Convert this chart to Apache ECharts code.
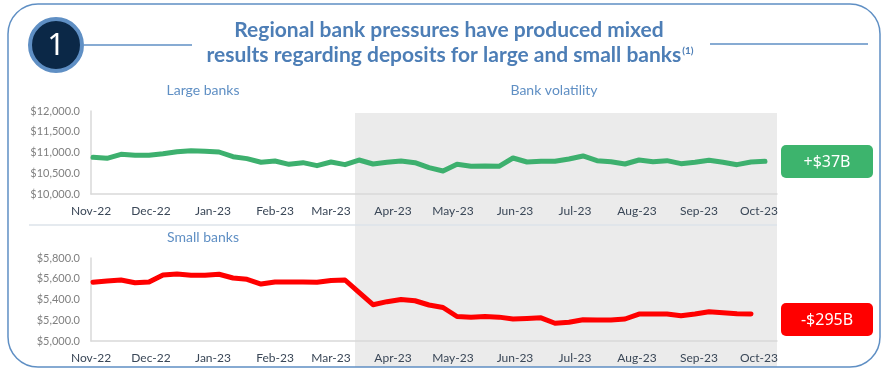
<!DOCTYPE html>
<html>
<head>
<meta charset="utf-8">
<script src="https://cdn.jsdelivr.net/npm/echarts@6/dist/echarts.min.js"></script>
<style>
  html, body { margin: 0; padding: 0; background: #ffffff; }
  #chart { width: 884px; height: 372px; }
</style>
</head>
<body>
<div id="chart"></div>
<script>
// Weekly observation dates (Wednesdays)
const weekDates = [
  '2022-11-02','2022-11-09','2022-11-16','2022-11-23','2022-11-30',
  '2022-12-07','2022-12-14','2022-12-21','2022-12-28',
  '2023-01-04','2023-01-11','2023-01-18','2023-01-25',
  '2023-02-01','2023-02-08','2023-02-15','2023-02-22',
  '2023-03-01','2023-03-08','2023-03-15','2023-03-22','2023-03-29',
  '2023-04-05','2023-04-12','2023-04-19','2023-04-26',
  '2023-05-03','2023-05-10','2023-05-17','2023-05-24','2023-05-31',
  '2023-06-07','2023-06-14','2023-06-21','2023-06-28',
  '2023-07-05','2023-07-12','2023-07-19','2023-07-26',
  '2023-08-02','2023-08-09','2023-08-16','2023-08-23','2023-08-30',
  '2023-09-06','2023-09-13','2023-09-20','2023-09-27',
  '2023-10-04'
];

// Deposits, $ billions
const largeBanks = [
  10884, 10860, 10956, 10932, 10932, 10972, 11020, 11044, 11028, 11012,
  10900, 10852, 10764, 10795, 10715, 10755, 10683, 10771, 10707, 10819,
  10723, 10763, 10795, 10755, 10634, 10554, 10715, 10667, 10675, 10667,
  10867, 10771, 10787, 10787, 10843, 10916, 10803, 10779, 10723, 10819,
  10779, 10803, 10731, 10763, 10811, 10763, 10707, 10771, 10787
];
const smallBanks = [
  5566, 5578, 5588, 5562, 5569, 5636, 5646, 5633, 5633, 5643,
  5607, 5595, 5549, 5569, 5569, 5569, 5566, 5583, 5588, 5468,
  5350, 5379, 5400, 5388, 5347, 5323, 5236, 5230, 5236, 5230,
  5212, 5217, 5223, 5171, 5180, 5205, 5202, 5202, 5212, 5260,
  5260, 5260, 5244, 5260, 5282, 5273, 5263, 5260
];

// Month tick positions and labels
const monthStarts = [
  '2022-11-01','2022-12-01','2023-01-01','2023-02-01','2023-03-01','2023-04-01',
  '2023-05-01','2023-06-01','2023-07-01','2023-08-01','2023-09-01','2023-10-01'
];
const monthLabels = [
  'Nov-22','Dec-22','Jan-23','Feb-23','Mar-23','Apr-23',
  'May-23','Jun-23','Jul-23','Aug-23','Sep-23','Oct-23'
];

const axisStart = '2022-11-01';
const axisEnd = '2023-10-10';
const volatilityStart = '2023-03-13';

const largeTicks = { min: 10000, max: 12000, interval: 500 };
const smallTicks = { min: 5000, max: 5800, interval: 200 };

const titleLines = ['Regional bank pressures have produced mixed', 'results regarding deposits for large and small banks'];
const largeChange = '+$37B';
const smallChange = '-$295B';

const toTime = s => new Date(s + 'T00:00:00').getTime();
const monthTimes = monthStarts.map(toTime);
const labelFor = v => {
  const i = monthTimes.indexOf(v);
  return i >= 0 ? monthLabels[i] : '';
};
const money = v => '$' + v.toLocaleString('en-US', { minimumFractionDigits: 1, maximumFractionDigits: 1 });

const blue = '#4D7EB6';
const lightBlue = '#5F8FC4';
const green = '#3DB06E';
const red = '#FF0000';
const axisGray = '#D9D9D9';

function xAxisFor(gridIndex) {
  return {
    type: 'value', gridIndex,
    min: toTime(axisStart), max: toTime(axisEnd),
    axisLine: { show: true, onZero: false, lineStyle: { color: axisGray, width: 1.5 } },
    axisTick: { show: false },
    splitLine: { show: false },
    axisLabel: {
      customValues: monthTimes,
      formatter: labelFor,
      color: '#3A4757', fontSize: 12, fontFamily: 'Lato',
      margin: 11, hideOverlap: false, showMinLabel: true, showMaxLabel: true
    }
  };
}
function yAxisFor(gridIndex, t) {
  return {
    type: 'value', gridIndex,
    min: t.min, max: t.max, interval: t.interval,
    axisLine: { show: true, lineStyle: { color: axisGray, width: 1.5 } },
    axisTick: { show: false },
    splitLine: { show: false },
    axisLabel: { formatter: money, color: '#7F7F7F', fontSize: 11, fontFamily: 'Lato', margin: 11 }
  };
}

const chart = echarts.init(document.getElementById('chart'), null, { renderer: 'canvas' });

chart.setOption({
  animation: false,
  backgroundColor: '#ffffff',
  grid: [
    { left: 91, top: 111, width: 686, height: 83 },
    { left: 91, top: 258, width: 686, height: 83 }
  ],
  xAxis: [xAxisFor(0), xAxisFor(1)],
  yAxis: [yAxisFor(0, largeTicks), yAxisFor(1, smallTicks)],
  series: [
    {
      name: 'Large banks', type: 'line', xAxisIndex: 0, yAxisIndex: 0,
      data: largeBanks.map((v, i) => [toTime(weekDates[i]), v]),
      showSymbol: false, symbol: 'none', z: 5,
      lineStyle: { color: green, width: 5, join: 'round', cap: 'round' }
    },
    {
      name: 'Small banks', type: 'line', xAxisIndex: 1, yAxisIndex: 1,
      data: smallBanks.map((v, i) => [toTime(weekDates[i]), v]),
      showSymbol: false, symbol: 'none', z: 5,
      lineStyle: { color: red, width: 5, join: 'round', cap: 'round' }
    }
  ]
});

// Shaded "Bank volatility" band spanning both panels, positioned from the x axis
const bandX0 = chart.convertToPixel({ xAxisIndex: 0 }, toTime(volatilityStart));
const bandX1 = chart.convertToPixel({ xAxisIndex: 0 }, toTime(axisEnd));

chart.setOption({
  graphic: [
    {
      type: 'rect', z: -10, silent: true,
      shape: { x: bandX0, y: 113, width: bandX1 - bandX0, height: 254 },
      style: { fill: '#EBEBEB' }
    },
    {
      type: 'line', z: -5, silent: true,
      shape: { x1: 29, y1: 225, x2: bandX1, y2: 225 },
      style: { stroke: '#DDE3EA', lineWidth: 1.5 }
    },
    // frame
    {
      type: 'rect', silent: true,
      shape: { x: 8, y: 4, width: 872, height: 363, r: 30 },
      style: { fill: null, stroke: lightBlue, lineWidth: 1.5 }
    },
    {
      type: 'line', silent: true,
      shape: { x1: 84, y1: 45, x2: 192, y2: 45 },
      style: { stroke: lightBlue, lineWidth: 1.5 }
    },
    {
      type: 'line', silent: true,
      shape: { x1: 710, y1: 44, x2: 868, y2: 44 },
      style: { stroke: lightBlue, lineWidth: 1.5 }
    },
    {
      type: 'circle', silent: true,
      shape: { cx: 56, cy: 45, r: 26 },
      style: { fill: '#0B2847', stroke: lightBlue, lineWidth: 4 }
    },
    {
      type: 'text', silent: true, x: 56, y: 46,
      style: { text: '1', fill: '#ffffff', font: '31px "Noto Sans"', align: 'center', verticalAlign: 'middle' }
    },
    // title
    {
      type: 'text', silent: true, x: 449, y: 30,
      style: { text: titleLines[0], fill: blue, font: 'bold 21px Lato', align: 'center', verticalAlign: 'middle' }
    },
    {
      type: 'text', silent: true, x: 450, y: 55,
      style: {
        text: '{m|' + titleLines[1] + '}{s|(1)}',
        align: 'center', verticalAlign: 'middle',
        rich: {
          m: { fill: blue, font: 'bold 21px Lato' },
          s: { fill: blue, font: 'bold 10px Lato', padding: [0, 0, 8, 1] }
        }
      }
    },
    // panel captions
    {
      type: 'text', silent: true, x: 203, y: 90,
      style: { text: 'Large banks', fill: lightBlue, font: '14px Lato', align: 'center', verticalAlign: 'middle' }
    },
    {
      type: 'text', silent: true, x: 554, y: 90,
      style: { text: 'Bank volatility', fill: lightBlue, font: '14px Lato', align: 'center', verticalAlign: 'middle' }
    },
    {
      type: 'text', silent: true, x: 203, y: 237,
      style: { text: 'Small banks', fill: lightBlue, font: '14px Lato', align: 'center', verticalAlign: 'middle' }
    },
    // change badges
    {
      type: 'rect', silent: true,
      shape: { x: 781, y: 145, width: 92, height: 33, r: 5 },
      style: { fill: '#3DB46D' }
    },
    {
      type: 'text', silent: true, x: 827, y: 162,
      style: { text: largeChange, fill: '#ffffff', font: '16px "Noto Sans"', align: 'center', verticalAlign: 'middle' }
    },
    {
      type: 'rect', silent: true,
      shape: { x: 781, y: 303, width: 92, height: 33, r: 5 },
      style: { fill: red }
    },
    {
      type: 'text', silent: true, x: 827, y: 320,
      style: { text: smallChange, fill: '#ffffff', font: '16px "Noto Sans"', align: 'center', verticalAlign: 'middle' }
    }
  ]
});
</script>
</body>
</html>
